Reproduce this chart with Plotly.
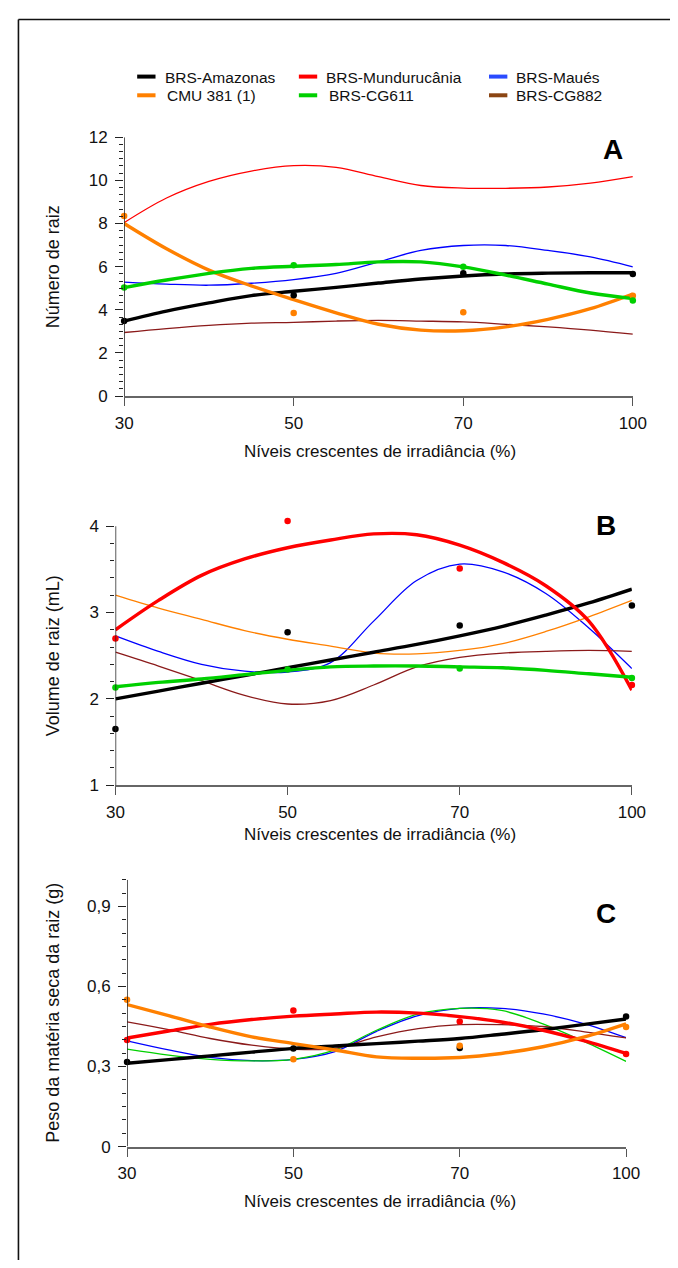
import plotly.graph_objects as go

# ---------------- data ----------------
levels = [30, 50, 70, 100]
level_labels = ["30", "50", "70", "100"]
fit_pos = [0, 0.25, 0.5, 0.75, 1, 1.25, 1.5, 1.75, 2, 2.25, 2.5, 2.75, 3]

names = ["BRS-Amazonas", "BRS-Mundurucânia", "BRS-Maués",
         "CMU 381 (1)", "BRS-CG611", "BRS-CG882"]

# Panel A - Número de raiz
a_pts_amazonas = [3.48, 4.67, 5.69, 5.66]
a_pts_cmu = [8.35, 3.85, 3.89, 4.65]
a_pts_cg611 = [5.03, 6.07, 5.99, 4.43]
a_fit_amazonas = [3.48, 3.94, 4.32, 4.66, 4.86, 5.04, 5.24, 5.43, 5.57, 5.66, 5.70, 5.72, 5.72]
a_fit_mundurucania = [8.04, 9.18, 9.95, 10.43, 10.68, 10.60, 10.17, 9.76, 9.64, 9.63, 9.69, 9.87, 10.17]
a_fit_maues = [5.28, 5.19, 5.14, 5.23, 5.40, 5.69, 6.22, 6.75, 6.98, 6.98, 6.75, 6.45, 5.99]
a_fit_cmu = [8.00, 6.83, 5.84, 5.11, 4.47, 3.86, 3.33, 3.06, 3.03, 3.21, 3.56, 4.05, 4.73]
a_fit_cg611 = [5.03, 5.38, 5.69, 5.92, 6.02, 6.10, 6.22, 6.22, 5.99, 5.61, 5.19, 4.78, 4.52]
a_fit_cg882 = [2.95, 3.13, 3.28, 3.38, 3.42, 3.48, 3.51, 3.48, 3.44, 3.33, 3.21, 3.06, 2.87]

# Panel B - Volume de raiz (mL)
b_pts_amazonas = [1.65, 2.77, 2.85, 3.08]
b_pts_mundurucania = [2.70, 4.06, 3.51, 2.16]
b_pts_cg611 = [2.13, 2.34, 2.35, 2.24]
b_fit_amazonas = [2.00, 2.09, 2.18, 2.27, 2.36, 2.45, 2.54, 2.63, 2.73, 2.84, 2.97, 3.11, 3.27]
b_fit_mundurucania = [2.80, 3.14, 3.43, 3.62, 3.75, 3.84, 3.91, 3.90, 3.78, 3.58, 3.31, 2.90, 2.10]
b_fit_maues = [2.73, 2.55, 2.40, 2.32, 2.31, 2.42, 2.90, 3.37, 3.56, 3.47, 3.22, 2.82, 2.35]
b_fit_cmu = [3.20, 3.05, 2.92, 2.79, 2.69, 2.61, 2.53, 2.52, 2.56, 2.64, 2.78, 2.95, 3.14]
b_fit_cg611 = [2.14, 2.19, 2.23, 2.28, 2.33, 2.37, 2.38, 2.38, 2.37, 2.36, 2.33, 2.29, 2.25]
b_fit_cg882 = [2.54, 2.38, 2.21, 2.04, 1.94, 1.98, 2.16, 2.37, 2.48, 2.53, 2.55, 2.56, 2.55]

# Panel C - Peso da matéria seca da raiz (g)
c_pts_amazonas = [0.317, 0.368, 0.369, 0.487]
c_pts_mundurucania = [0.399, 0.510, 0.469, 0.347]
c_pts_cmu = [0.550, 0.327, 0.378, 0.448]
c_fit_amazonas = [0.312, 0.326, 0.340, 0.354, 0.368, 0.377, 0.386, 0.395, 0.405, 0.421, 0.438, 0.458, 0.478]
c_fit_mundurucania = [0.407, 0.433, 0.458, 0.476, 0.489, 0.497, 0.504, 0.500, 0.487, 0.467, 0.436, 0.396, 0.349]
c_fit_maues = [0.396, 0.362, 0.334, 0.322, 0.327, 0.356, 0.432, 0.491, 0.518, 0.518, 0.497, 0.460, 0.408]
c_fit_cmu = [0.532, 0.491, 0.448, 0.411, 0.386, 0.362, 0.336, 0.331, 0.334, 0.349, 0.374, 0.411, 0.460]
c_fit_cg611 = [0.365, 0.343, 0.327, 0.321, 0.327, 0.362, 0.436, 0.497, 0.518, 0.510, 0.460, 0.393, 0.319]
c_fit_cg882 = [0.467, 0.438, 0.405, 0.380, 0.365, 0.368, 0.411, 0.442, 0.457, 0.457, 0.450, 0.430, 0.407]

# ---------------- style ----------------
PAGE_W, PAGE_H = 678, 1268
BODY = 8  # default page margin around the figure
W, H = PAGE_W - 2 * BODY, PAGE_H - 2 * BODY
FONT = "Liberation Sans, Arial, sans-serif"
line_colors = {
    "BRS-Amazonas": "#000000",
    "BRS-Mundurucânia": "#ff0000",
    "BRS-Maués": "#0000ff",
    "CMU 381 (1)": "#ff8000",
    "BRS-CG611": "#00d000",
    "BRS-CG882": "#8b1a1a",
}
legend_colors = dict(line_colors)
legend_colors["BRS-Maués"] = "#2a4bff"
legend_colors["BRS-CG882"] = "#8b4513"

THICK, THIN = 3.4, 1.3


def px(x):
    return (x - BODY) / W


def py(y):
    return 1 - (y - BODY) / H


# each panel: pixel box of the axis lines (ybot = pixel of axis minimum,
# ytop = pixel of axis maximum) plus a little headroom for dots above the max
panels = [
    dict(key="", fits=dict(zip(names, [a_fit_amazonas, a_fit_mundurucania, a_fit_maues,
                                         a_fit_cmu, a_fit_cg611, a_fit_cg882])),
         pts={"BRS-Amazonas": a_pts_amazonas, "CMU 381 (1)": a_pts_cmu, "BRS-CG611": a_pts_cg611},
         xpix=(119, 646), ypix=(393, 130), yaxis_span=[0, 12], head=0.0,
         dtick=2, minor=2 / 6,
         ytitle="Número de raiz", letter="A", letter_xy=(625, 143)),
    dict(key="2", fits=dict(zip(names, [b_fit_amazonas, b_fit_mundurucania, b_fit_maues,
                                          b_fit_cmu, b_fit_cg611, b_fit_cg882])),
         pts={"BRS-Amazonas": b_pts_amazonas, "BRS-Mundurucânia": b_pts_mundurucania,
              "BRS-CG611": b_pts_cg611},
         xpix=(110, 645), ypix=(788, 525), yaxis_span=[1, 4], head=0.15,
         dtick=1, minor=0.2,
         ytitle="Volume de raiz (mL)", letter="B", letter_xy=(618, 524)),
    dict(key="3", fits=dict(zip(names, [c_fit_amazonas, c_fit_mundurucania, c_fit_maues,
                                          c_fit_cmu, c_fit_cg611, c_fit_cg882])),
         pts={"BRS-Amazonas": c_pts_amazonas, "BRS-Mundurucânia": c_pts_mundurucania,
              "CMU 381 (1)": c_pts_cmu},
         xpix=(122, 639), ypix=(1155, 884), yaxis_span=[0, 1.0], head=0.0,
         dtick=0.3, minor=0.05,
         ytitle="Peso da matéria seca da raiz (g)", letter="C", letter_xy=(618, 918)),
]

fig = go.Figure()
annotations = []
shapes = []

for p in panels:
    k = p["key"]
    xa, ya = "x" + k, "y" + k
    thick_set = set(p["pts"].keys())
    order = [n for n in names if n not in thick_set] + [n for n in names if n in thick_set]
    for n in order:
        fig.add_trace(go.Scatter(
            x=fit_pos, y=p["fits"][n], mode="lines", xaxis=xa, yaxis=ya,
            line=dict(color=line_colors[n], width=THICK if n in thick_set else THIN,
                      shape="spline", smoothing=1.0),
            cliponaxis=False, showlegend=False, hoverinfo="skip"))
    for n, vals in p["pts"].items():
        fig.add_trace(go.Scatter(
            x=list(range(len(levels))), y=vals, mode="markers", xaxis=xa, yaxis=ya,
            marker=dict(color=line_colors[n], size=6.5),
            cliponaxis=False, showlegend=False, hoverinfo="skip"))

    xl, xr = p["xpix"]
    yb, yt = p["ypix"]
    lo, hi = p["yaxis_span"]
    ppu = (yb - yt) / (hi - lo)
    top_pix = yt - p["head"] * ppu
    fig.layout["xaxis" + k] = dict(
        domain=[px(xl), px(xr)], range=[0, 3], anchor=ya,
        tickmode="array", tickvals=list(range(len(levels))), ticktext=level_labels,
        ticks="outside", ticklen=8, tickwidth=1.3, tickcolor="#555555",
        showline=True, linecolor="#666666", linewidth=2,
        showgrid=False, zeroline=False, ticklabelstandoff=2,
        tickfont=dict(family=FONT, size=17, color="#111111"))
    fig.layout["yaxis" + k] = dict(
        domain=[py(yb), py(top_pix)], range=[lo, hi + p["head"]], anchor=xa,
        tick0=lo, dtick=p["dtick"],
        ticks="outside", ticklen=8, tickwidth=1.3, tickcolor="#222222",
        minor=dict(dtick=p["minor"], tick0=lo, ticks="outside",
                   ticklen=4, tickwidth=1.2, tickcolor="#222222"),
        showline=False, showgrid=False, zeroline=False, ticklabelstandoff=4,
        tickfont=dict(family=FONT, size=17, color="#111111"))
    # y axis line only over the labelled span
    shapes.append(dict(type="line", xref=xa, yref=ya, x0=0, x1=0, y0=lo, y1=hi,
                       line=dict(color="#222222", width=1.5), layer="above"))

    annotations.append(dict(
        text=p["ytitle"], xref="paper", yref="paper", x=px(45), y=py((yb + yt) / 2),
        textangle=-90, showarrow=False, xanchor="center", yanchor="middle",
        font=dict(family=FONT, size=18, color="#111111")))
    annotations.append(dict(
        text="<b>%s</b>" % p["letter"], xref="paper", yref="paper",
        x=px(p["letter_xy"][0]), y=py(p["letter_xy"][1]), showarrow=False,
        xanchor="center", yanchor="middle",
        font=dict(family=FONT, size=28, color="#000000")))

xtitle_y = [449, 838, 1211]
for yy in xtitle_y:
    annotations.append(dict(
        text="Níveis crescentes de irradiância (%)", xref="paper", yref="paper",
        x=px(384), y=py(yy), showarrow=False, xanchor="center", yanchor="middle",
        font=dict(family=FONT, size=17, color="#111111")))

# legend (drawn manually in 3 columns x 2 rows)
legend_layout = [
    ("BRS-Amazonas", 132.5, 151.5, 159, 68.5),
    ("BRS-Mundurucânia", 300, 319, 326, 68.5),
    ("BRS-Maués", 497, 516, 523, 68.5),
    ("CMU 381 (1)", 132.5, 151.5, 161.5, 87.5),
    ("BRS-CG611", 300, 319, 329, 87.5),
    ("BRS-CG882", 497, 516, 523, 87.5),
]
for n, x0, x1, tx, yy in legend_layout:
    shapes.append(dict(type="line", xref="paper", yref="paper",
                       x0=px(x0), x1=px(x1), y0=py(yy), y1=py(yy),
                       line=dict(color=legend_colors[n], width=4)))
    annotations.append(dict(
        text=n, xref="paper", yref="paper", x=px(tx), y=py(yy + 0.5),
        showarrow=False, xanchor="left", yanchor="middle",
        font=dict(family=FONT, size=15.5, color="#111111")))

# outer frame (left and top edges visible)
shapes.append(dict(type="line", xref="paper", yref="paper",
                   x0=px(9.5), x1=px(9.5), y0=py(10.5), y1=py(1400),
                   line=dict(color="#111111", width=1.6)))
shapes.append(dict(type="line", xref="paper", yref="paper",
                   x0=px(9.5), x1=px(800), y0=py(10.5), y1=py(10.5),
                   line=dict(color="#111111", width=1.6)))

fig.update_layout(
    width=W, height=H, margin=dict(l=0, r=0, t=0, b=0),
    paper_bgcolor="white", plot_bgcolor="white",
    separators=",.", showlegend=False,
    annotations=annotations, shapes=shapes,
    font=dict(family=FONT, color="#111111"),
)

fig.write_html("out.html", config={"responsive": False, "displayModeBar": False})
